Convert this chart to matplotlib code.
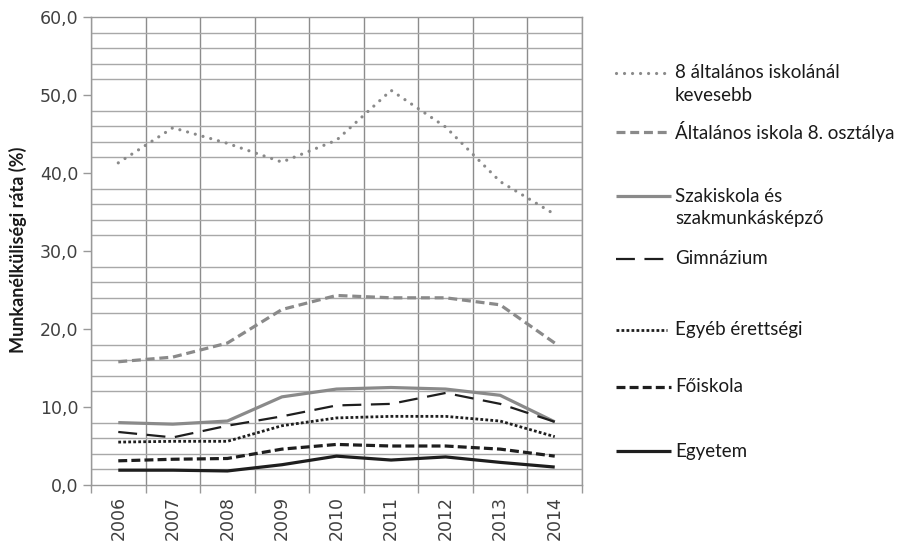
import matplotlib
matplotlib.use('Agg')
import matplotlib.pyplot as plt
from matplotlib.ticker import FixedLocator, FuncFormatter

years = ['2006', '2007', '2008', '2009', '2010', '2011', '2012', '2013', '2014']

kevesebb_8 = [41.3, 45.8, 43.8, 41.4, 44.2, 50.6, 45.9, 38.9, 34.7]
altalanos_8 = [15.8, 16.4, 18.2, 22.5, 24.3, 24.0, 24.0, 23.1, 18.2]
szakiskola = [8.0, 7.8, 8.2, 11.3, 12.3, 12.5, 12.3, 11.5, 8.1]
gimnazium = [6.8, 6.1, 7.6, 8.8, 10.2, 10.4, 11.8, 10.4, 8.1]
egyeb_erettsegi = [5.5, 5.6, 5.6, 7.6, 8.6, 8.8, 8.8, 8.2, 6.2]
foiskola = [3.1, 3.3, 3.4, 4.6, 5.2, 5.0, 5.0, 4.6, 3.7]
egyetem = [1.9, 1.9, 1.8, 2.6, 3.7, 3.2, 3.6, 2.9, 2.3]

labels = [['8 általános iskolánál', 'kevesebb'],
          ['Általános iskola 8. osztálya'],
          ['Szakiskola és', 'szakmunkásképző'],
          ['Gimnázium'],
          ['Egyéb érettségi'],
          ['Főiskola'],
          ['Egyetem']]

GRAY = '#8a8a8a'
DARK = '#1e1e1e'
styles = [
    dict(color=GRAY, lw=2.3, dashes=(0.01, 2.5), dash_capstyle='round'),
    dict(color=GRAY, lw=2.3, dashes=(2.8, 1.5)),
    dict(color=GRAY, lw=2.3),
    dict(color=DARK, lw=1.6, dashes=(8.5, 4.3)),
    dict(color=DARK, lw=2.0, dashes=(1.0, 0.8)),
    dict(color=DARK, lw=2.3, dashes=(2.8, 1.3)),
    dict(color=DARK, lw=2.3),
]
series = [kevesebb_8, altalanos_8, szakiskola, gimnazium, egyeb_erettsegi, foiskola, egyetem]

W, H = 903, 544
fig = plt.figure(figsize=(W / 100, H / 100), dpi=100)
ax = fig.add_axes([91 / W, 1 - 485 / H, (582 - 91) / W, (485 - 17) / H])

x = list(range(len(years)))
for s, st in zip(series, styles):
    ax.plot(x, s, solid_capstyle='butt', **st)

ax.set_xlim(-0.5, len(years) - 0.5)
ax.set_ylim(0, 60)

# category axis: grid at boundaries, labels at centres
ax.xaxis.set_major_locator(FixedLocator([i - 0.5 for i in range(len(years) + 1)]))
ax.xaxis.set_minor_locator(FixedLocator(x))
ax.set_xticklabels([''] * (len(years) + 1))
ax.set_xticklabels(years, minor=True, rotation=90)
ax.tick_params(axis='x', which='major', length=6, color='#999999', width=1)
ax.tick_params(axis='x', which='minor', length=0, pad=8, labelsize=12.5, labelcolor='#404040')

ax.yaxis.set_major_locator(FixedLocator(range(0, 61, 10)))
ax.yaxis.set_minor_locator(FixedLocator(range(0, 61, 2)))
ax.yaxis.set_major_formatter(FuncFormatter(lambda v, p: f'{v:.1f}'.replace('.', ',')))
ax.tick_params(axis='y', which='major', length=6, color='#999999', width=1,
               labelsize=12.5, labelcolor='#404040', pad=3)
ax.tick_params(axis='y', which='minor', length=0)

ax.grid(True, axis='x', which='major', color='#8c8c8c', lw=1)
ax.grid(True, axis='y', which='minor', color='#a8a8a8', lw=1)
ax.set_axisbelow(True)
for sp in ax.spines.values():
    sp.set_color('#999999')
    sp.set_linewidth(1)

fig.text(18 / W, 1 - 250 / H, 'Munkanélküliségi ráta (%)', rotation=90,
         ha='center', va='center', fontsize=13, fontweight='bold',
         family=['Lato', 'DejaVu Sans'], color='#1a1a1a')

# legend drawn in figure pixel space
lg = fig.add_axes([0, 0, 1, 1])
lg.set_xlim(0, W)
lg.set_ylim(H, 0)
lg.axis('off')
legend_y = [73, 132, 196, 259, 330, 387, 451]
legend_end = [671, 671, 671, 664, 667, 671, 671]
for ly, le, lab, st in zip(legend_y, legend_end, labels, styles):
    lg.plot([616, le], [ly, ly], solid_capstyle='butt', **st)
    for k, line in enumerate(lab):
        lg.text(675, ly + k * 22.5, line, ha='left', va='center', fontsize=13.5,
                family=['Lato', 'DejaVu Sans'], color='#1a1a1a')

fig.savefig('out.png', dpi=100)
